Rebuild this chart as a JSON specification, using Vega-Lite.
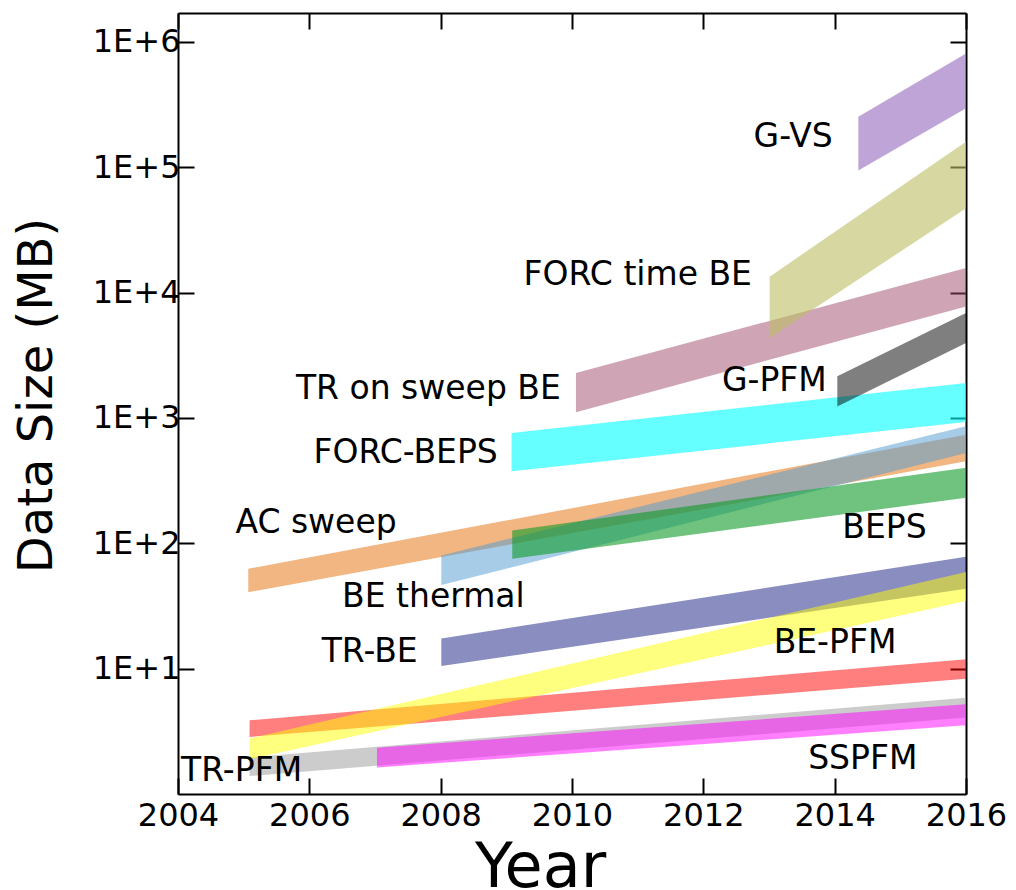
{
  "$schema": "https://vega.github.io/schema/vega-lite/v6.json",
  "width": 788,
  "height": 781,
  "autosize": "none",
  "padding": {"left": 178, "top": 13, "right": 50, "bottom": 96},
  "background": "white",
  "datasets": {
    "bands": [
      {"band": "AC sweep", "year": 2005.07, "hi": 62.7, "lo": 40.7},
      {"band": "AC sweep", "year": 2016, "hi": 736, "lo": 451},
      {"band": "BE thermal", "year": 2008.01, "hi": 80.0, "lo": 46.4},
      {"band": "BE thermal", "year": 2016, "hi": 857, "lo": 526},
      {"band": "BEPS", "year": 2009.09, "hi": 126.5, "lo": 75.2},
      {"band": "BEPS", "year": 2016, "hi": 400, "lo": 231},
      {"band": "PFM", "year": 2005.09, "hi": 3.87, "lo": 2.85},
      {"band": "PFM", "year": 2016, "hi": 11.9, "lo": 8.32},
      {"band": "TR-PFM", "year": 2005.09, "hi": 1.96, "lo": 1.39},
      {"band": "TR-PFM", "year": 2016, "hi": 5.87, "lo": 4.07},
      {"band": "SSPFM", "year": 2007.03, "hi": 2.34, "lo": 1.63},
      {"band": "SSPFM", "year": 2016, "hi": 5.2, "lo": 3.53},
      {"band": "TR-BE", "year": 2008.01, "hi": 17.4, "lo": 10.5},
      {"band": "TR-BE", "year": 2016, "hi": 78, "lo": 43.4},
      {"band": "BE-PFM", "year": 2005.09, "hi": 2.77, "lo": 1.89},
      {"band": "BE-PFM", "year": 2016, "hi": 58.9, "lo": 34.6},
      {"band": "FORC-BEPS", "year": 2009.08, "hi": 759, "lo": 376},
      {"band": "FORC-BEPS", "year": 2016, "hi": 1901, "lo": 927},
      {"band": "G-PFM", "year": 2014.04, "hi": 2148, "lo": 1236},
      {"band": "G-PFM", "year": 2016, "hi": 6871, "lo": 3963},
      {"band": "TR on sweep BE", "year": 2010.06, "hi": 2285, "lo": 1109},
      {"band": "TR on sweep BE", "year": 2016, "hi": 15700, "lo": 7740},
      {"band": "FORC time BE", "year": 2013.01, "hi": 13400, "lo": 4340},
      {"band": "FORC time BE", "year": 2016, "hi": 160000, "lo": 47100},
      {"band": "G-VS", "year": 2014.36, "hi": 253000, "lo": 94000},
      {"band": "G-VS", "year": 2016, "hi": 809000, "lo": 295000}
    ],
    "labels": [
      {"label": "G-VS", "year": 2013.97, "value": 174000},
      {"label": "FORC time BE", "year": 2012.74, "value": 13900},
      {"label": "TR on sweep BE", "year": 2009.83, "value": 1710},
      {"label": "G-PFM", "year": 2013.88, "value": 1982},
      {"label": "FORC-BEPS", "year": 2008.87, "value": 530},
      {"label": "AC sweep", "year": 2007.33, "value": 144},
      {"label": "BE thermal", "year": 2009.28, "value": 37.0},
      {"label": "TR-BE", "year": 2007.65, "value": 13.7},
      {"label": "BEPS", "year": 2015.4, "value": 133.6},
      {"label": "BE-PFM", "year": 2014.94, "value": 15.9},
      {"label": "SSPFM", "year": 2015.26, "value": 1.89},
      {"label": "TR-PFM", "year": 2005.89, "value": 1.52}
    ]
  },
  "layer": [
    {
      "data": {"name": "bands"},
      "encoding": {
        "x": {"field": "year", "type": "quantitative",
              "scale": {"domain": [2004, 2016], "nice": false, "zero": false},
              "axis": {"orient": "bottom", "values": [2004, 2006, 2008, 2010, 2012, 2014, 2016], "format": "d",
                       "labelFlush": false, "labelPadding": 22,
                       "title": "Year", "titleFontSize": 62, "titleBaseline": "alphabetic", "titleX": 362, "titleY": 92}},
        "y": {"field": "hi", "type": "quantitative",
              "scale": {"type": "log", "domain": [1, 1700000], "nice": false},
              "axis": {"orient": "left", "values": [10, 100, 1000, 10000, 100000, 1000000],
                       "labelExpr": "'1E+' + round(log(datum.value) / LN10)", "labelPadding": 14,
                       "title": "Data Size (MB)", "titlePadding": 31, "titleY": 382}},
        "y2": {"field": "lo"}
      },
      "layer": [
        {"transform": [{"filter": "datum.band === 'AC sweep'"}], "mark": {"type": "area", "color": "#e36e05", "opacity": 0.5}},
        {"transform": [{"filter": "datum.band === 'BE thermal'"}], "mark": {"type": "area", "color": "#4d99d1", "opacity": 0.5}},
        {"transform": [{"filter": "datum.band === 'BEPS'"}], "mark": {"type": "area", "color": "#119b28", "opacity": 0.6}},
        {"transform": [{"filter": "datum.band === 'PFM'"}], "mark": {"type": "area", "color": "#ff0000", "opacity": 0.5}},
        {"transform": [{"filter": "datum.band === 'TR-PFM'"}], "mark": {"type": "area", "color": "#999999", "opacity": 0.5}},
        {"transform": [{"filter": "datum.band === 'SSPFM'"}], "mark": {"type": "area", "color": "#ff00ff", "opacity": 0.5}},
        {"transform": [{"filter": "datum.band === 'TR-BE'"}], "mark": {"type": "area", "color": "#151b81", "opacity": 0.5}},
        {"transform": [{"filter": "datum.band === 'BE-PFM'"}], "mark": {"type": "area", "color": "#ffff00", "opacity": 0.5}},
        {"transform": [{"filter": "datum.band === 'FORC-BEPS'"}], "mark": {"type": "area", "color": "#00ffff", "opacity": 0.6}},
        {"transform": [{"filter": "datum.band === 'G-PFM'"}], "mark": {"type": "area", "color": "#000000", "opacity": 0.5}},
        {"transform": [{"filter": "datum.band === 'TR on sweep BE'"}], "mark": {"type": "area", "color": "#9f4b6b", "opacity": 0.5}},
        {"transform": [{"filter": "datum.band === 'FORC time BE'"}], "mark": {"type": "area", "color": "#bcbd64", "opacity": 0.6}},
        {"transform": [{"filter": "datum.band === 'G-VS'"}], "mark": {"type": "area", "color": "#9467bd", "opacity": 0.6}}
      ]
    },
    {
      "data": {"name": "labels"},
      "mark": {"type": "text", "align": "right", "baseline": "middle", "font": "DejaVu Sans", "fontSize": 33, "color": "black"},
      "encoding": {
        "x": {"field": "year", "type": "quantitative",
              "scale": {"domain": [2004, 2016], "nice": false, "zero": false},
              "axis": {"orient": "top", "values": [2004, 2006, 2008, 2010, 2012, 2014, 2016], "labels": false, "title": null}},
        "y": {"field": "value", "type": "quantitative",
              "scale": {"type": "log", "domain": [1, 1700000], "nice": false},
              "axis": {"orient": "right", "values": [10, 100, 1000, 10000, 100000, 1000000], "labels": false, "title": null}},
        "text": {"field": "label"}
      }
    }
  ],
  "resolve": {"axis": {"x": "independent", "y": "independent"}},
  "config": {
    "view": {"stroke": null},
    "axis": {
      "domainColor": "black", "domainWidth": 2, "tickColor": "black", "tickWidth": 2, "tickSize": -16,
      "grid": false, "zindex": 1,
      "labelFont": "DejaVu Sans", "labelFontSize": 32, "labelColor": "black",
      "titleFont": "DejaVu Sans", "titleFontSize": 48, "titleFontWeight": "normal", "titleColor": "black"
    }
  }
}
